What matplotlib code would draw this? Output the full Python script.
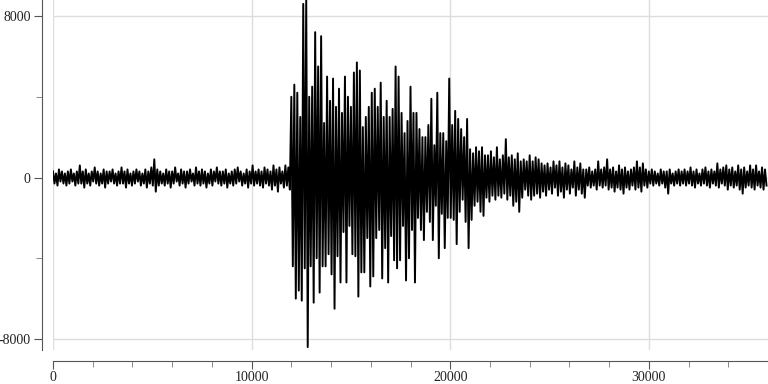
import numpy as np
import matplotlib.pyplot as plt
from matplotlib.ticker import MultipleLocator

# peak readings (in hundreds of counts), one hi/lo pair per 150-sample slot
pre_hi = [3, 2, 4, 3, 2, 3, 4, 2, 3, 6, 3, 4, 2, 3, 5, 3, 2, 4, 3, 3,
          4, 2, 3, 5, 3, 4, 2, 3, 4, 3, 2, 4, 3, 5, 9, 4, 3, 2, 4, 3,
          3, 5, 2, 4, 3, 3, 4, 2, 5, 3, 4, 3, 2, 4, 3, 5, 3, 3, 4, 2,
          3, 4, 5, 3, 2, 4, 3, 6, 3, 4, 3, 5, 4, 3, 6, 4, 5, 3, 6, 5]
pre_lo = [-3, -4, -2, -3, -4, -3, -2, -4, -3, -3, -5, -3, -4, -2, -3, -4, -3, -5, -3, -2,
          -3, -4, -3, -3, -5, -3, -4, -3, -2, -4, -3, -5, -3, -4, -7, -4, -3, -4, -3, -5,
          -3, -2, -4, -3, -5, -3, -2, -4, -3, -4, -3, -5, -3, -4, -2, -3, -4, -3, -5, -3,
          -4, -3, -2, -4, -3, -5, -3, -4, -3, -4, -5, -3, -4, -6, -4, -7, -3, -5, -4, -6]

burst_hi = [40, 46, 42, 30, 86, 88, 40, 45, 72, 55, 70, 27, 50, 38, 49, 35, 44, 32, 50, 40,
            35, 52, 57, 53, 25, 30, 35, 42, 44, 35, 47, 30, 38, 30, 34, 55, 50, 32, 22, 28,
            45, 32, 32, 24, 20, 20, 26, 39, 16, 42, 22, 22, 18, 49, 26, 33, 29, 24, 20, 29,
            14, 12, 15, 13, 15, 11, 11, 13, 10, 15, 9, 11, 19, 10, 11, 9, 12, 8, 9, 8]
burst_lo = [-44, -60, -56, -61, -45, -84, -44, -62, -40, -57, -44, -44, -38, -48, -65, -39, -52, -27, -52, -24,
            -38, -39, -59, -47, -47, -30, -54, -49, -30, -26, -50, -35, -52, -29, -41, -45, -41, -24, -51, -40,
            -26, -52, -20, -26, -31, -17, -22, -31, -14, -40, -18, -35, -20, -20, -21, -33, -17, -11, -22, -35,
            -21, -14, -12, -17, -19, -10, -12, -9, -11, -9, -10, -8, -11, -9, -14, -12, -17, -10, -6, -9]

coda_hi = [11, 8, 10, 9, 7, 6, 7, 5, 8, 6, 8, 5, 7, 6, 4, 8, 5, 7, 4, 4,
           5, 3, 4, 8, 4, 5, 9, 4, 5, 3, 6, 4, 5, 3, 4, 5, 8, 5, 7, 4,
           3, 4, 3, 2, 4, 3, 3, 4, 2, 3, 4, 3, 4, 3, 5, 3, 4, 2, 4, 5,
           3, 4, 3, 7, 4, 5, 6, 4, 5, 3, 6, 4, 5, 3, 6, 4, 6, 3, 5, 4]
coda_lo = [-11, -9, -8, -10, -7, -9, -6, -8, -5, -9, -7, -10, -6, -8, -5, -9, -6, -8, -10, -4,
           -5, -4, -6, -4, -5, -4, -6, -5, -7, -5, -6, -8, -5, -6, -4, -6, -5, -7, -4, -5,
           -3, -4, -3, -4, -3, -5, -8, -3, -4, -3, -4, -3, -4, -3, -4, -5, -3, -4, -3, -4,
           -5, -3, -4, -5, -3, -4, -6, -4, -5, -4, -6, -8, -5, -4, -5, -6, -4, -5, -6, -4]

step = 150
hi = np.array(pre_hi + burst_hi + coda_hi) * 100.0
lo = np.array(pre_lo + burst_lo + coda_lo) * 100.0

# interleave the peaks into a single trace
t = np.empty(2 * len(hi))
y = np.empty(2 * len(hi))
t[0::2] = np.arange(len(hi)) * step
t[1::2] = np.arange(len(hi)) * step + step / 2
y[0::2] = hi
y[1::2] = lo

plt.rcParams['font.family'] = ['Liberation Serif', 'DejaVu Serif']
plt.rcParams['axes.unicode_minus'] = False

fig = plt.figure(figsize=(7.68, 3.84), dpi=100)
ax = fig.add_axes([53 / 768, 34 / 384, 715 / 768, 350 / 384])

ax.plot(t, y, color='black', lw=1.4, zorder=3)

ax.set_xlim(0, 36000)
ax.set_ylim(-8545, 8793)

ax.xaxis.set_major_locator(MultipleLocator(10000))
ax.xaxis.set_minor_locator(MultipleLocator(2000))
ax.yaxis.set_major_locator(MultipleLocator(8000))
ax.yaxis.set_minor_locator(MultipleLocator(4000))

ax.grid(True, which='major', color='#dddddd', lw=1.0, zorder=0)

for side in ['top', 'right']:
    ax.spines[side].set_visible(False)
for side in ['left', 'bottom']:
    ax.spines[side].set_position(('outward', 8))
    ax.spines[side].set_color('#555555')

ax.tick_params(which='major', length=6, color='#555555', labelsize=10, labelcolor='#222222', pad=2)
ax.tick_params(which='minor', length=4, color='#777777')
ax.tick_params(axis='x', which='major', length=6, pad=1)

fig.savefig('out.png', dpi=100)
